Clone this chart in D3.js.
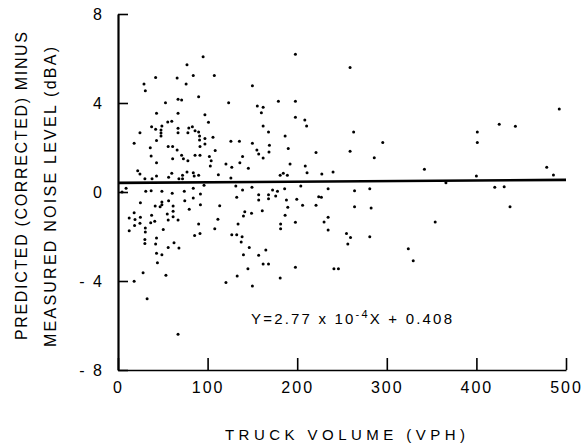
<html>
<head>
<meta charset="utf-8">
<title>Truck volume residuals</title>
<style>
body { margin: 0; background: #fff; }
svg { font-family: "Liberation Sans", Arial, Helvetica, sans-serif; }
.axis text { font-size: 16px; fill: #000; letter-spacing: 2px; }
.axis line { stroke: #000; stroke-width: 1.6px; }
.y.axis path { stroke: #000; stroke-width: 2.2px; }
.x.axis path { stroke: #000; stroke-width: 1.6px; }
.dot { fill: #000; }
.fit { fill: none; stroke: #000; stroke-width: 2.6px; }
.label { font-size: 15px; fill: #000; }
.ytitle { font-size: 16px; fill: #000; }
</style>
</head>
<body>
<script src="https://d3js.org/d3.v7.min.js"></script>
<script>
// x: truck volume (vph), y: predicted (corrected) minus measured level (dBA)
var truckVolume = [
  77, 42, 66, 84, 107.5, 29, 76, 30.5, 90, 53, 67, 71, 123.5, 43, 67, 97, 101, 55.5, 60, 37.5,
  49, 48, 48, 48, 42, 67, 79, 83, 86, 90, 24.5, 67, 78, 91, 91, 97, 106, 43, 18, 97,
  56, 61, 36, 91.5, 66, 108.5, 37, 71, 86, 91.5, 61, 73, 78, 102, 104, 43, 103, 120.5, 22, 24.5,
  60, 43, 56.5, 72, 77, 84, 85, 90, 112, 30, 38, 68, 72,
  9, 4.5, 31, 37, 49, 60.5, 84, 74, 96, 92, 84, 25, 49, 49, 47, 41.5, 56.5, 61.5, 74.5, 92,
  113.5, 18, 61.5, 79.5, 12.5, 19, 25, 37.5, 55, 61.5, 41, 36.5, 56, 67, 111.5, 18.5, 24.5, 90, 30.5, 30.5,
  50.5, 12.5, 108, 91.5, 85.5, 30, 30, 43, 42, 62.5, 56, 68, 43, 49, 44, 28, 53.5, 18, 120.5, 32.5, 67,
  150, 155.5, 162, 179, 198, 160, 198, 208.5, 210.5, 162, 168, 186.5, 126, 135.5, 150, 169, 190, 155, 157, 168.5,
  221, 139, 162, 136, 127, 145.5, 192, 209, 126, 181, 184.5, 189, 211,
  131.5, 139, 149.5, 132.5, 157, 157, 168, 168, 172.5, 178, 176, 186, 188, 199.5, 204, 224, 161, 141.5, 149, 140,
  189.5, 206, 221, 186.5, 134, 181.5, 181.5, 198, 127, 132.5, 138.5, 137.5, 146.5, 165, 140, 157, 162, 168, 145, 198,
  133, 181, 150,
  259, 263, 295.5, 259, 286, 240, 227.5, 342,
  234.5, 264, 281, 227, 264, 282.5, 234.5, 230, 234.5, 255, 259.5, 281, 256.5, 354, 324, 329.5, 241, 246,
  492.5, 425.5, 443.5, 401, 401, 478.5, 366, 420.5, 431, 437.5,
  95, 198, 400, 486
];
var levelDiff = [
  5.72, 5.15, 5.12, 5.24, 5.24, 4.85, 4.85, 4.55, 4.28, 4.01, 4.17, 4.13, 4.01, 3.54, 3.54, 3.47, 3.13, 3.15, 3.18, 2.93,
  2.97, 2.79, 2.65, 2.52, 2.82, 2.86, 2.88, 2.93, 2.75, 2.70, 2.66, 2.66, 2.66, 2.52, 2.34, 2.40, 2.46, 2.31, 2.19, 2.16,
  2.04, 2.04, 1.99, 2.04, 1.89, 1.86, 1.62, 1.65, 1.65, 1.65, 1.50, 1.50, 1.41, 1.59, 1.41, 1.32, 1.17, 1.26, 0.96, 0.81,
  0.84, 0.72, 0.66, 0.75, 0.90, 0.87, 0.72, 0.75, 0.78, 0.60, 0.60, 0.60, 0.60,
  0.17, 0.00, 0.03, 0.06, 0.03, -0.06, 0.17, 0.03, 0.30, -0.09, -0.27, -0.48, -0.45, -0.57, -0.66, -0.63, -0.39, -0.63, -0.39, -0.57,
  -0.62, -0.93, -0.87, -0.78, -1.17, -1.24, -1.14, -1.05, -0.99, -1.11, -1.32, -1.38, -1.26, -1.26, -1.23, -1.50, -1.41, -1.44, -1.62, -1.80,
  -1.68, -1.74, -1.65, -1.86, -1.95, -2.13, -2.31, -2.07, -2.34, -2.28, -2.49, -2.52, -2.75, -2.82, -3.18, -3.63, -3.74, -4.01, -4.07, -4.80, -6.39,
  4.78, 3.86, 3.81, 4.08, 4.08, 3.56, 3.36, 3.24, 2.97, 2.97, 2.70, 2.52, 2.28, 2.28, 2.19, 2.10, 1.96, 1.89, 1.71, 1.80,
  1.77, 1.59, 1.53, 1.32, 1.11, 1.07, 1.26, 1.17, 0.63, 0.75, 0.84, 0.75, 0.87,
  0.27, 0.09, 0.21, -0.24, -0.12, -0.36, -0.12, -0.30, 0.09, 0.03, -0.18, 0.15, -0.36, -0.33, 0.27, -0.21, -0.84, -0.89, -0.96, -1.08,
  -0.69, -0.60, -0.60, -1.05, -1.44, -1.44, -1.65, -1.36, -1.92, -1.92, -2.01, -2.25, -2.49, -2.61, -2.82, -2.84, -3.24, -3.24, -3.45, -3.38,
  -3.78, -3.86, -4.22,
  5.60, 2.70, 2.23, 1.83, 1.54, 0.90, 0.81, 1.02,
  0.15, 0.06, 0.15, -0.24, -0.66, -0.72, -1.14, -1.35, -1.71, -1.86, -2.04, -2.01, -2.34, -1.35, -2.55, -3.09, -3.45, -3.45,
  3.73, 3.04, 2.95, 2.70, 2.22, 1.11, 0.42, 0.21, 0.24, -0.66,
  6.08, 6.19, 0.72, 0.76
];
var xTicks = [0, 100, 200, 300, 400, 500];
var yTicks = [-8, -4, 0, 4, 8];
var fitSlope = 2.77e-4,
    fitIntercept = 0.408;

var W = 588, H = 448;

var xs = d3.scaleLinear().domain([0, 500]).range([118, 566]),
    ys = d3.scaleLinear().domain([-8, 8]).range([370, 14]);

var svg = d3.select("body").append("svg")
    .attr("width", W)
    .attr("height", H);

// axes, ticks pointing inward
svg.append("g")
    .attr("class", "y axis")
    .attr("transform", "translate(" + xs(0) + ",0)")
    .call(d3.axisLeft(ys).tickValues(yTicks).tickSize(-10).tickSizeOuter(0).tickPadding(14)
      .tickFormat(function(d) { return d < 0 ? "- " + Math.abs(d) : d; }));

svg.append("g")
    .attr("class", "x axis")
    .attr("transform", "translate(0," + ys(-8) + ")")
    .call(d3.axisBottom(xs).tickValues(xTicks).tickSize(-12).tickSizeOuter(0).tickPadding(12));

// points
var pts = truckVolume.map(function(v, i) { return [v, levelDiff[i]]; });
svg.append("g").selectAll("circle")
    .data(pts)
  .enter().append("circle")
    .attr("class", "dot")
    .attr("cx", function(d) { return xs(d[0]); })
    .attr("cy", function(d) { return ys(d[1]); })
    .attr("r", 1.5);

// regression line
var fitX = xs.domain();
svg.append("path")
    .attr("class", "fit")
    .attr("d", d3.line()
      .x(function(d) { return xs(d); })
      .y(function(d) { return ys(fitSlope * d + fitIntercept); })(fitX));

// equation
var eq = svg.append("text")
    .attr("class", "label")
    .attr("x", 251)
    .attr("y", 324)
    .attr("textLength", 201)
    .attr("lengthAdjust", "spacing");
eq.append("tspan").text("Y=2.77 x 10");
eq.append("tspan").attr("dy", -6).style("font-size", "11px").text("-4");
eq.append("tspan").attr("dy", 6).text("X + 0.408");

// axis titles
svg.append("text")
    .attr("class", "label")
    .attr("x", 225)
    .attr("y", 440)
    .attr("textLength", 240)
    .attr("lengthAdjust", "spacing")
    .text("TRUCK VOLUME (VPH)");

svg.append("text")
    .attr("class", "ytitle")
    .attr("transform", "translate(27,186) rotate(-90)")
    .attr("text-anchor", "middle")
    .attr("textLength", 308)
    .attr("lengthAdjust", "spacing")
    .text("PREDICTED (CORRECTED) MINUS");

svg.append("text")
    .attr("class", "ytitle")
    .attr("transform", "translate(56,197) rotate(-90)")
    .attr("text-anchor", "middle")
    .attr("textLength", 300)
    .attr("lengthAdjust", "spacing")
    .text("MEASURED NOISE LEVEL (dBA)");
</script>
</body>
</html>
